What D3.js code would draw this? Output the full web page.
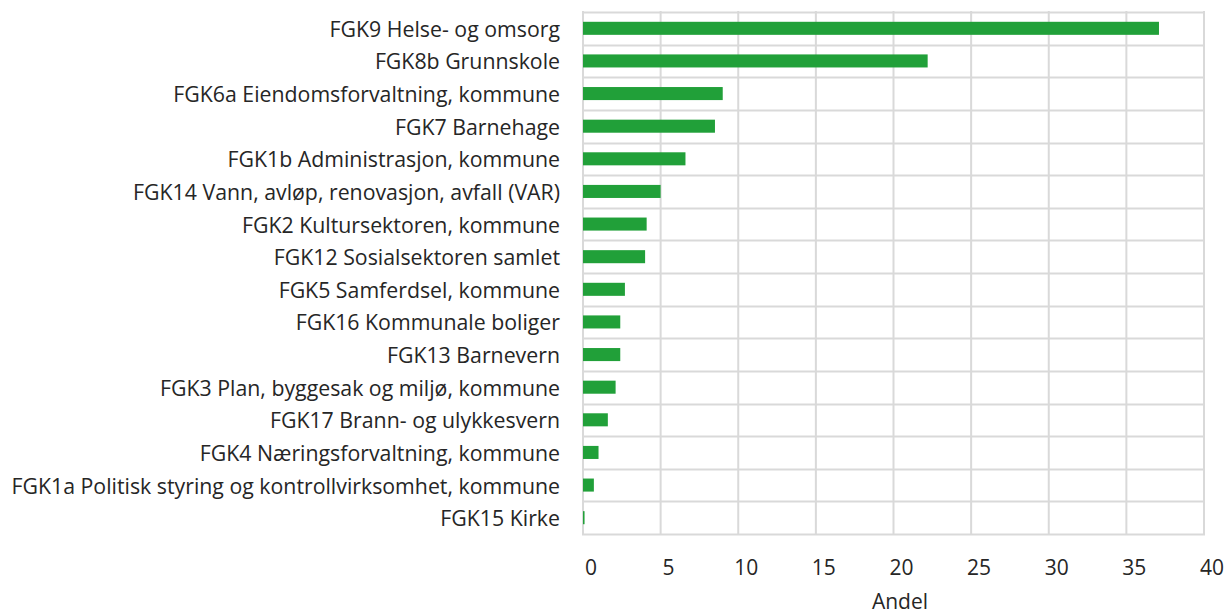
<!DOCTYPE html>
<html>
<head>
<meta charset="utf-8">
<script src="https://cdn.jsdelivr.net/npm/d3@7"></script>
<style>
  body { margin: 0; background: #fff; }
  text { font-family: "Open Sans", "Noto Sans", sans-serif; fill: #262626; }
</style>
</head>
<body>
<svg id="chart" width="1229" height="614"></svg>
<script>
// categories top to bottom
var categories = [
  "FGK9 Helse- og omsorg",
  "FGK8b Grunnskole",
  "FGK6a Eiendomsforvaltning, kommune",
  "FGK7 Barnehage",
  "FGK1b Administrasjon, kommune",
  "FGK14 Vann, avløp, renovasjon, avfall (VAR)",
  "FGK2 Kultursektoren, kommune",
  "FGK12 Sosialsektoren samlet",
  "FGK5 Samferdsel, kommune",
  "FGK16 Kommunale boliger",
  "FGK13 Barnevern",
  "FGK3 Plan, byggesak og miljø, kommune",
  "FGK17 Brann- og ulykkesvern",
  "FGK4 Næringsforvaltning, kommune",
  "FGK1a Politisk styring og kontrollvirksomhet, kommune",
  "FGK15 Kirke"
];
var andel = [37.1, 22.2, 9.0, 8.5, 6.6, 5.0, 4.1, 4.0, 2.7, 2.4, 2.4, 2.1, 1.6, 1.0, 0.7, 0.1];
var xTicks = [0, 5, 10, 15, 20, 25, 30, 35, 40];
var xTitle = "Andel";

var data = categories.map(function(c, i) { return { key: c, value: andel[i] }; });

var margin = { left: 583, right: 25, top: 12, bottom: 80 };
var W = 1229, H = 614;
var svg = d3.select("#chart");

var xScale = d3.scaleLinear().domain([0, 40]).range([margin.left, W - margin.right]);
var yScale = d3.scaleBand().domain(categories).range([margin.top, H - margin.bottom]);

var grid = svg.append("g").attr("class", "grid");

// horizontal gridlines at band edges
var edges = d3.range(categories.length + 1).map(i => Math.round(margin.top + i * yScale.step()));
var yGrid = d3.scaleLinear().domain([0, 1]).range([0, 1]);
grid.append("g")
  .attr("transform", "translate(" + (xScale(0) - 1) + ",0)")
  .call(d3.axisRight(yGrid).tickValues(edges).tickSize(xScale(40) - xScale(0) + 2).tickFormat(""))
  .call(g => g.select(".domain").remove())
  .selectAll("line")
  .attr("stroke", "#d9d9d9")
  .attr("stroke-width", 2);

// vertical gridlines
grid.selectAll("line.vline")
  .data(xTicks)
  .join("line")
  .attr("class", "vline")
  .attr("x1", d => xScale(d)).attr("x2", d => xScale(d))
  .attr("y1", edges[0] - 1).attr("y2", edges[edges.length - 1] + 1)
  .attr("stroke", "#d9d9d9").attr("stroke-width", 2);

// bars
var barH = yScale.bandwidth() * 0.4;
svg.selectAll(".bar")
  .data(data)
  .enter()
  .append("rect")
  .attr("class", "bar")
  .attr("x", xScale(0))
  .attr("y", d => yScale(d.key) + (yScale.bandwidth() - barH) / 2)
  .attr("width", d => xScale(d.value) - xScale(0))
  .attr("height", barH)
  .attr("fill", "#21a039");

// category labels
svg.selectAll(".label")
  .data(data)
  .enter()
  .append("text")
  .attr("class", "label")
  .attr("x", xScale(0) - 23)
  .attr("y", d => yScale(d.key) + yScale.bandwidth() / 2)
  .attr("text-anchor", "end")
  .attr("dominant-baseline", "central")
  .style("font-size", "21.3px")
  .text(d => d.key);

// x tick labels
svg.selectAll(".xtick")
  .data(xTicks)
  .enter()
  .append("text")
  .attr("class", "xtick")
  .attr("x", d => xScale(d) + 8)
  .attr("y", 567)
  .attr("text-anchor", "middle")
  .attr("dominant-baseline", "central")
  .style("font-size", "21px")
  .text(d => d);

svg.append("text")
  .attr("x", 900)
  .attr("y", 601)
  .attr("text-anchor", "middle")
  .attr("dominant-baseline", "central")
  .style("font-size", "21px")
  .text(xTitle);
</script>
</body>
</html>
